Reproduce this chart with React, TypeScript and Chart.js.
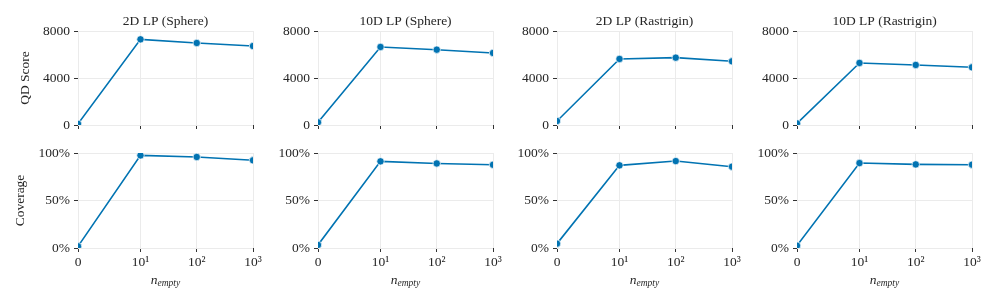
import { useEffect, useRef } from "react";
import { Chart, registerables } from "chart.js";

Chart.register(...registerables);

// ---------- data ----------
const nEmpty = [0, 10, 100, 1000];
const xTickLabels = ["0", "10¹", "10²", "10³"];
const panelTitles = ["2D LP (Sphere)", "10D LP (Sphere)", "2D LP (Rastrigin)", "10D LP (Rastrigin)"];

const qdScore2DSphere = [100, 7290, 6980, 6720];
const qdScore10DSphere = [230, 6640, 6410, 6130];
const qdScore2DRastrigin = [340, 5620, 5730, 5420];
const qdScore10DRastrigin = [140, 5280, 5110, 4910];

const coverage2DSphere = [1.8, 97.5, 95.8, 92.3];
const coverage10DSphere = [3.2, 91.2, 89.0, 87.6];
const coverage2DRastrigin = [4.6, 87.0, 91.5, 85.6];
const coverage10DRastrigin = [2.5, 89.4, 88.0, 87.7];

const qdTicks = [0, 4000, 8000];
const coverageTicks = [0, 50, 100];
const rowTitles = ["QD Score", "Coverage"];
const xTitleMain = "n";
const xTitleSub = "empty";

const qdRows = [qdScore2DSphere, qdScore10DSphere, qdScore2DRastrigin, qdScore10DRastrigin];
const covRows = [coverage2DSphere, coverage10DSphere, coverage2DRastrigin, coverage10DRastrigin];

// ---------- style ----------
const SERIF = "'Liberation Serif', 'DejaVu Serif', serif";
const BLUE = "#0173b2";
const TEXT = "#262626";
const GRID = "#ebebeb";
const plotLefts = [78, 318, 557, 797];
const PLOT_W = 175;
const Y_AXIS_W = 78;
const RIGHT_PAD = 16;

// symmetric log transform (linthresh 10, base 10)
function symlog(v: number): number {
  const lin = 10;
  const scale = 1 / (1 - 1 / 10);
  if (Math.abs(v) <= lin) return (v / lin) * scale;
  return Math.sign(v) * (scale + Math.log10(Math.abs(v) / lin));
}

const textPlugin = {
  id: "panelText",
  afterDraw(chart: any, _args: any, opts: any) {
    const { ctx, chartArea } = chart;
    const cx = (chartArea.left + chartArea.right) / 2;
    ctx.save();
    ctx.fillStyle = TEXT;
    if (opts.title) {
      ctx.font = `13.5px ${SERIF}`;
      ctx.textAlign = "center";
      ctx.textBaseline = "alphabetic";
      ctx.fillText(opts.title, cx, chartArea.top - 6.5);
    }
    if (opts.yTitle) {
      ctx.save();
      ctx.font = `13.5px ${SERIF}`;
      ctx.textAlign = "center";
      ctx.textBaseline = "middle";
      ctx.translate(opts.yTitleX, (chartArea.top + chartArea.bottom) / 2);
      ctx.rotate(-Math.PI / 2);
      ctx.fillText(opts.yTitle, 0, 0);
      ctx.restore();
    }
    if (opts.xTitle) {
      ctx.textAlign = "left";
      ctx.textBaseline = "alphabetic";
      ctx.font = `italic 13.5px ${SERIF}`;
      const w1 = ctx.measureText(xTitleMain).width;
      ctx.font = `italic 9.5px ${SERIF}`;
      const w2 = ctx.measureText(xTitleSub).width;
      const x0 = cx - (w1 + w2) / 2;
      const base = chartArea.bottom + 36;
      ctx.font = `italic 13.5px ${SERIF}`;
      ctx.fillText(xTitleMain, x0, base);
      ctx.font = `italic 9.5px ${SERIF}`;
      ctx.fillText(xTitleSub, x0 + w1, base + 2);
    }
    ctx.restore();
  },
};

function Panel({ row, col }: { row: number; col: number }) {
  const ref = useRef<HTMLCanvasElement | null>(null);
  const canvasLeft = plotLefts[col] - Y_AXIS_W;
  const canvasTop = row === 0 ? 0 : 140;
  const canvasH = row === 0 ? 145 : 168;
  const canvasW = Y_AXIS_W + PLOT_W + RIGHT_PAD;

  useEffect(() => {
    if (!ref.current) return;
    const values = row === 0 ? qdRows[col] : covRows[col];
    const yTicks = row === 0 ? qdTicks : coverageTicks;
    const chart = new Chart(ref.current, {
      type: "line",
      data: {
        datasets: [
          {
            data: nEmpty.map((n, i) => ({ x: symlog(n), y: values[i] })),
            borderColor: BLUE,
            backgroundColor: BLUE,
            pointBackgroundColor: BLUE,
            pointBorderColor: "#ffffff",
            pointBorderWidth: 0.7,
            pointRadius: 3.7,
            borderWidth: 1.6,
            tension: 0,
          },
        ],
      },
      plugins: [textPlugin],
      options: {
        animation: false,
        responsive: false,
        devicePixelRatio: 1,
        layout: { padding: { top: row === 0 ? 31 : 13, right: RIGHT_PAD, left: 0, bottom: 0 } },
        plugins: {
          legend: { display: false },
          tooltip: { enabled: false },
          panelText: {
            title: row === 0 ? panelTitles[col] : "",
            yTitle: col === 0 ? rowTitles[row] : "",
            yTitleX: row === 0 ? 25 : 20,
            xTitle: row === 1,
          },
        } as any,
        scales: {
          x: {
            type: "linear",
            min: symlog(nEmpty[0]),
            max: symlog(nEmpty[nEmpty.length - 1]),
            afterBuildTicks: (s: any) => {
              s.ticks = nEmpty.map((n) => ({ value: symlog(n) }));
            },
            afterFit: (s: any) => {
              s.height = row === 0 ? 20 : 60;
            },
            ticks: {
              display: row === 1,
              autoSkip: false,
              maxRotation: 0,
              padding: 2,
              color: TEXT,
              font: { family: SERIF, size: 13.5 },
              callback: (_v: any, i: number) => xTickLabels[i],
            },
            grid: { color: GRID, lineWidth: 1, tickColor: "#333333", tickLength: 4, tickWidth: 1 },
            border: { display: false },
          },
          y: {
            type: "linear",
            min: yTicks[0],
            max: yTicks[yTicks.length - 1],
            afterBuildTicks: (s: any) => {
              s.ticks = yTicks.map((v) => ({ value: v }));
            },
            afterFit: (s: any) => {
              s.width = Y_AXIS_W;
            },
            ticks: {
              autoSkip: false,
              padding: 4,
              color: TEXT,
              font: { family: SERIF, size: 13.5 },
              callback: (v: any) => (row === 0 ? String(v) : `${v}%`),
            },
            grid: { color: GRID, lineWidth: 1, tickColor: "#333333", tickLength: 4, tickWidth: 1 },
            border: { display: false },
          },
        },
      },
    } as any);
    return () => chart.destroy();
  }, [row, col]);

  return (
    <canvas
      ref={ref}
      width={canvasW}
      height={canvasH}
      style={{ position: "absolute", left: canvasLeft, top: canvasTop, width: canvasW, height: canvasH }}
    />
  );
}

export default function App() {
  const panels = [];
  for (let r = 0; r < 2; r++) for (let c = 0; c < 4; c++) panels.push(<Panel key={`${r}-${c}`} row={r} col={c} />);
  return (
    <div style={{ position: "absolute", left: 0, top: 0, width: 997, height: 308, background: "#ffffff", overflow: "hidden" }}>
      {panels}
    </div>
  );
}
